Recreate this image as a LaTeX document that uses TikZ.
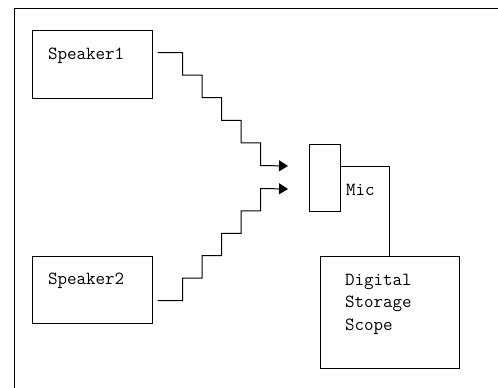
\documentclass[tikz,border=0pt]{standalone}
\usetikzlibrary{arrows.meta}
\begin{document}
\begin{tikzpicture}[x=1pt, y=-1pt, line width=1pt,
    box/.style={draw, rectangle, inner sep=0pt},
    lbl/.style={font=\ttfamily\fontsize{18.5}{22.5}\selectfont, inner sep=0pt},
    wave/.style={-{Triangle[length=9pt,width=11pt]}}]
  \useasboundingbox (0,0) rectangle (498,388);
  \draw (14,388) -- (14,8) -- (498,8);
  \node[box, minimum width=120pt, minimum height=68pt] (spk1) at (92,64) {};
  \node[box, minimum width=120pt, minimum height=67pt] (spk2) at (92,289.5) {};
  \node[box, minimum width=31pt, minimum height=67pt] (mic) at (324.5,177.5) {};
  \node[box, minimum width=139pt, minimum height=112pt] (dso) at (389.5,312) {};
  \node[lbl, anchor=base west] (spk1txt) at ([shift={(16,30)}]spk1.north west) {Speaker1};
  \node[lbl, anchor=base west] (spk2txt) at ([shift={(16,29)}]spk2.north west) {Speaker2};
  \node[lbl, anchor=base west] (mictxt) at ([shift={(5,18)}]mic.east) {Mic};
  \node[lbl, anchor=north west, align=left] (dsotxt) at ([shift={(25,18)}]dso.north west)
    {Digital\\Storage\\Scope};
  \coordinate (in1) at (288,166);
  \coordinate (in2) at (288,189);
  % sound paths
  \draw[wave] ([shift={(5,23)}]spk1.north east) -- ++(25,0)
    \foreach \s in {1,...,4} { -- ++(0,22.6) -- ++(19.5,0) } -- ++(0,22.6) -- (in1);
  \draw[wave] ([shift={(5,45)}]spk2.north east) -- ++(25,0)
    \foreach \s in {1,...,4} { -- ++(0,-22.4) -- ++(19.5,0) } -- ++(0,-22.4) -- (in2);
  \draw ([yshift=11.5pt]mic.east) -| (dso.north);
\end{tikzpicture}
\end{document}
